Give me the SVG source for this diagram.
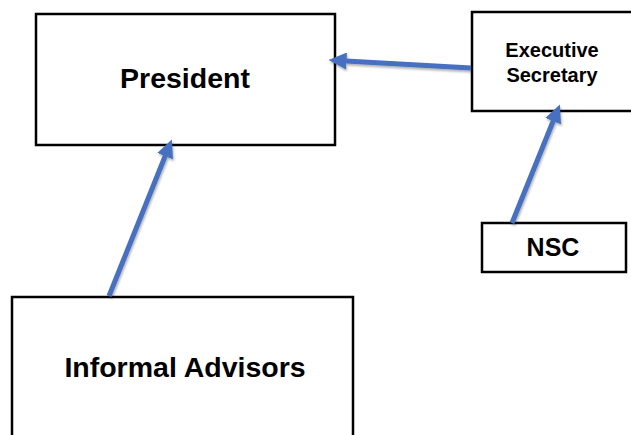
<svg xmlns="http://www.w3.org/2000/svg" width="631" height="435" viewBox="0 0 631 435">
<style>
.box{fill:#fff;stroke:#000;stroke-width:2.5}
.lbl{font-family:"Liberation Sans",Arial,sans-serif;font-weight:bold;fill:#000;text-anchor:middle}
.conn{stroke:#4670C0;stroke-width:5;fill:none}
</style>
<defs>
<marker id="ah" markerUnits="userSpaceOnUse" markerWidth="18" markerHeight="17" viewBox="0 0 18 17" refX="0.5" refY="8.5" orient="auto">
<path d="M0,0 L18,8.5 L0,17 z" fill="#4670C0"/>
</marker>
<filter id="sh" x="-20%" y="-20%" width="140%" height="140%">
<feDropShadow dx="1" dy="2" stdDeviation="1" flood-color="#000" flood-opacity="0.3"/>
</filter>
</defs>
<g id="president">
<rect class="box" x="36" y="14" width="299" height="131"/>
<text class="lbl" x="185" y="88" font-size="28.5">President</text>
</g>
<g id="executive-secretary">
<rect class="box" x="472" y="12" width="162" height="99"/>
<text class="lbl" x="552" y="57" font-size="20">Executive</text>
<text class="lbl" x="552" y="82" font-size="20">Secretary</text>
</g>
<g id="nsc">
<rect class="box" x="482" y="223" width="144" height="49"/>
<text class="lbl" x="553" y="256" font-size="25">NSC</text>
</g>
<g id="informal-advisors">
<rect class="box" x="12" y="297" width="341" height="150"/>
<text class="lbl" x="185" y="377" font-size="28.5">Informal Advisors</text>
</g>
<g id="connectors" filter="url(#sh)">
<line class="conn" x1="471" y1="68" x2="346" y2="61" marker-end="url(#ah)"/>
<line class="conn" x1="109" y1="296" x2="165.3" y2="155.7" marker-end="url(#ah)"/>
<line class="conn" x1="512" y1="223" x2="553.3" y2="120.7" marker-end="url(#ah)"/>
</g>
</svg>
